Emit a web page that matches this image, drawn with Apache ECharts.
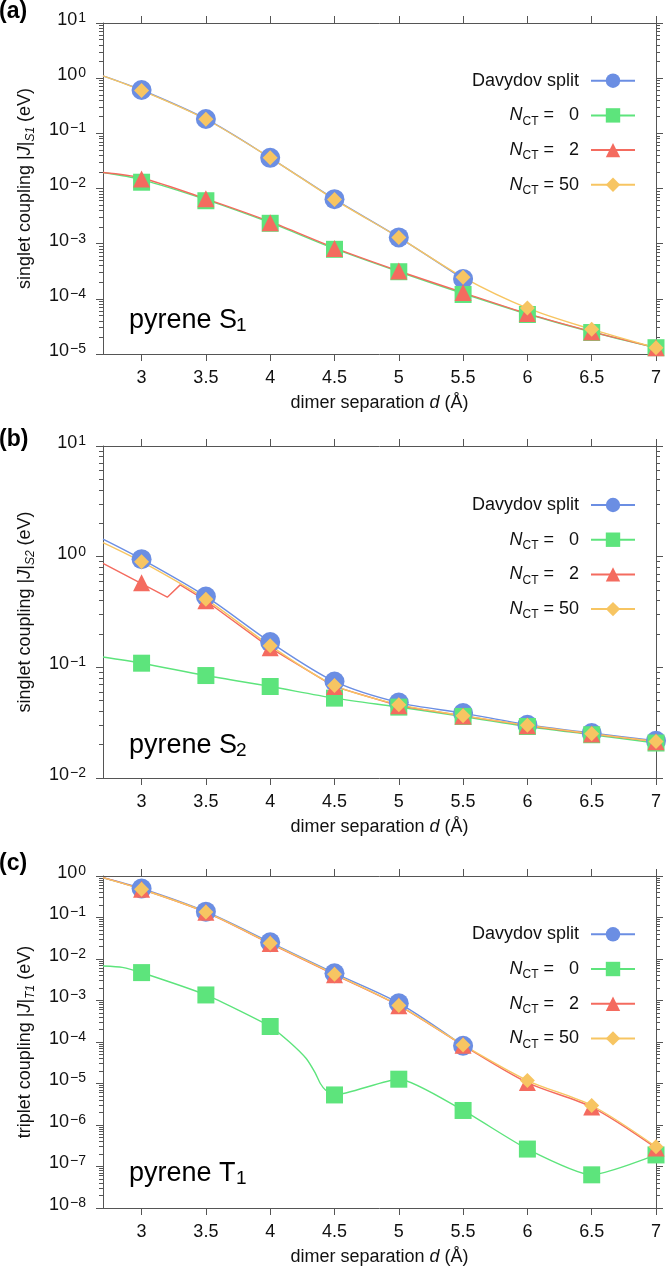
<!DOCTYPE html>
<html><head><meta charset="utf-8">
<script src="https://cdn.jsdelivr.net/npm/echarts@6/dist/echarts.min.js"></script>
<style>html,body{margin:0;padding:0;background:#fff}#c{width:666px;height:1267px}</style>
</head><body><div id="c"></div>
<script>
// ---------- data ----------
const xTicks = [3, 3.5, 4, 4.5, 5, 5.5, 6, 6.5, 7];
const xDav = [3, 3.5, 4, 4.5, 5, 5.5];
const legendNames = ['Davydov split', 'N_CT = 0', 'N_CT = 2', 'N_CT = 50'];

// panel (a) pyrene S1 — markers
const aDav = [0.61, 0.182, 0.036, 0.0064, 0.0013, 0.00023];
const aN0 = [0.013, 0.006, 0.00234, 0.00079, 0.00031, 0.00012, 5.2e-5, 2.45e-5, 1.3e-5];
const aN2 = [0.0148, 0.0065, 0.0024, 0.00082, 0.00032, 0.00013, 5.4e-5, 2.5e-5, 1.3e-5];
const aN50 = [0.6, 0.18, 0.036, 0.0063, 0.0013, 0.000245, 6.8e-5, 2.8e-5, 1.3e-5];
// panel (a) curves [d, J]
const aDavLine = [[2.7,1.1],[3,0.61],[3.5,0.182],[4,0.036],[4.5,0.0064],[5,0.0013],[5.5,0.00023]];
const aN0Line = [[2.7,0.0195],[3,0.0145],[3.5,0.0063],[4,0.0024],[4.5,0.00081],[5,0.00031],[5.5,0.000125],[6,5.3e-5],[6.5,2.5e-5],[7,1.3e-5]];
const aN2Line = [[2.7,0.0195],[3,0.0155],[3.5,0.0065],[4,0.0025],[4.5,0.00084],[5,0.00032],[5.5,0.00013],[6,5.4e-5],[6.5,2.55e-5],[7,1.3e-5]];
const aN50Line = [[2.7,1.1],[3,0.6],[3.5,0.18],[4,0.036],[4.5,0.0063],[5,0.0013],[5.5,0.000245],[6,6.8e-5],[6.5,2.8e-5],[7,1.3e-5]];

// panel (b) pyrene S2 — markers
const bDav = [0.95, 0.437, 0.169, 0.0745, 0.048, 0.0386, 0.0303, 0.0255, 0.0217];
const bN0 = [0.109, 0.0843, 0.0671, 0.0527, 0.0437, 0.036, 0.0292, 0.0246, 0.0207];
const bN2 = [0.58, 0.40, 0.15, 0.067, 0.045, 0.0364, 0.0297, 0.025, 0.0213];
const bN50 = [0.90, 0.413, 0.157, 0.0686, 0.046, 0.0366, 0.0299, 0.0251, 0.0214];
// panel (b) curves
const bDavLine = [[2.7,1.44],[3,0.95],[3.5,0.437],[4,0.169],[4.5,0.0745],[5,0.048],[5.5,0.0386],[6,0.0303],[6.5,0.0255],[7,0.0217]];
const bN0Line = [[2.7,0.124],[3,0.109],[3.5,0.0843],[4,0.0671],[4.5,0.0527],[5,0.0437],[5.5,0.036],[6,0.0292],[6.5,0.0246],[7,0.0207]];
const bN2Line = [[2.7,0.87],[3.2,0.43],[3.3,0.556],[3.5,0.40],[4,0.15],[4.5,0.067],[5,0.045],[5.5,0.0364],[6,0.0297],[6.5,0.025],[7,0.0213]];
const bN50Line = [[2.7,1.34],[3,0.90],[3.5,0.413],[4,0.157],[4.5,0.0686],[5,0.046],[5.5,0.0366],[6,0.0299],[6.5,0.0251],[7,0.0214]];

// panel (c) pyrene T1 — markers
const cDav = [0.50, 0.138, 0.0253, 0.00454, 0.00086, 8.1e-5];
const cN0 = [0.0047, 0.00136, 0.000236, 5.3e-6, 1.27e-5, 2.24e-6, 2.63e-7, 6.3e-8, 1.9e-7];
const cN2 = [0.48, 0.133, 0.0235, 0.0042, 0.00075, 8.3e-5, 1.05e-5, 2.7e-6, 2.8e-7];
const cN50 = [0.478, 0.135, 0.024, 0.0043, 0.00076, 8.5e-5, 1.18e-5, 2.95e-6, 3.0e-7];
// panel (c) curves
const cDavLine = [[2.7,0.91],[3,0.50],[3.5,0.138],[4,0.0253],[4.5,0.00454],[5,0.00086],[5.5,8.1e-5]];
const cN0Line = [[2.7,0.0068],[2.85,0.0063],[3,0.0047],[3.5,0.00136],[4,0.000236],[4.15,1.0e-4],[4.28,4.0e-5],[4.35,1.8e-5],[4.39,1.0e-5],[4.43,7.0e-6],[4.5,5.3e-6],[5,1.27e-5],[5.5,2.24e-6],[6,2.63e-7],[6.5,6.3e-8],[7,1.9e-7]];
const cN2Line = [[2.7,0.91],[3,0.48],[3.5,0.133],[4,0.0235],[4.5,0.0042],[5,0.00075],[5.5,8.3e-5],[6,1.05e-5],[6.5,2.7e-6],[7,2.8e-7]];
const cN50Line = [[2.7,0.91],[3,0.478],[3.5,0.135],[4,0.024],[4.5,0.0043],[5,0.00076],[5.5,8.5e-5],[6,1.18e-5],[6.5,2.95e-6],[7,3.0e-7]];

// ---------- style ----------
const FONT = '"Liberation Sans", Arial, Helvetica, sans-serif';
const TXT = '#111';
const AXIS = '#555';
const COLORS = ['#6b8ee3', '#5de47c', '#f46b5f', '#f7c562'];
const SYMBOLS = ['circle', 'rect', 'triangle', 'diamond'];
const SIZES = [20, 17, 17, 15];

const panels = [
  { top: 23, h: 331, ymin: 1e-5, ymax: 10, yname: 'singlet coupling |{i|J}|{s|S1} (eV)',
    tag: '(a)', tagY: 11.7, main: 'pyrene S', sub: '1', baseY: 330,
    legendTop: 68.7,
    markers: [[xDav, aDav], [xTicks, aN0], [xTicks, aN2], [xTicks, aN50]],
    lines: [aDavLine, aN0Line, aN2Line, aN50Line], smooth: [0.3, 0.3, 0.3, 0.3] },
  { top: 446, h: 332, ymin: 1e-2, ymax: 10, yname: 'singlet coupling |{i|J}|{s|S2} (eV)',
    tag: '(b)', tagY: 440, main: 'pyrene S', sub: '2', baseY: 755,
    legendTop: 493,
    markers: [[xTicks, bDav], [xTicks, bN0], [xTicks, bN2], [xTicks, bN50]],
    lines: [bDavLine, bN0Line, bN2Line, bN50Line], smooth: [0.3, 0.3, false, 0.3] },
  { top: 876, h: 332, ymin: 1e-8, ymax: 1, yname: 'triplet coupling |{i|J}|{s|T1} (eV)',
    tag: '(c)', tagY: 863.3, main: 'pyrene T', sub: '1', baseY: 1183,
    legendTop: 922.3,
    markers: [[xDav, cDav], [xTicks, cN0], [xTicks, cN2], [xTicks, cN50]],
    lines: [cDavLine, cN0Line, cN2Line, cN50Line], smooth: [0.3, 0.2, 0.3, 0.3] }
];

function supLabel(v) {
  const e = Math.round(Math.log10(v));
  return '{b|10}{s|' + (e < 0 ? '\u2212' + (-e) : String(e)) + '}';
}
function legendFmt(name) {
  if (name === 'Davydov split') return 'Davydov split';
  const n = name.split('= ')[1];
  return '{i|N}{c|CT} = {n|' + n + '}';
}

const option = {
  animation: false,
  backgroundColor: '#fff',
  textStyle: { fontFamily: FONT },
  grid: [], xAxis: [], yAxis: [], series: [], legend: [], graphic: []
};

panels.forEach((P, i) => {
  option.grid.push({ left: 103, right: 10, top: P.top, height: P.h, containLabel: false, outerBoundsMode: 'none' });

  const axisLine = { show: true, onZero: false, lineStyle: { color: AXIS, width: 1 } };
  // bottom x
  option.xAxis.push({
    type: 'value', gridIndex: i, position: 'bottom', min: 2.7, max: 7,
    axisLine: axisLine, splitLine: { show: false },
    axisTick: { show: true, inside: false, length: 7, customValues: xTicks, lineStyle: { color: AXIS } },
    axisLabel: { customValues: xTicks, fontSize: 18, color: TXT, margin: 15, fontFamily: FONT, formatter: v => String(v) },
    name: 'dimer separation {i|d} (Å)', nameLocation: 'middle', nameGap: 40,
    nameTextStyle: { fontSize: 18, color: TXT, fontFamily: FONT,
      rich: { i: { fontStyle: 'italic', fontSize: 18, color: TXT, fontFamily: FONT } } }
  });
  // top x
  option.xAxis.push({
    type: 'value', gridIndex: i, position: 'top', min: 2.7, max: 7,
    axisLine: axisLine, splitLine: { show: false },
    axisTick: { show: true, inside: false, length: 7, customValues: xTicks, lineStyle: { color: AXIS } },
    axisLabel: { show: false }
  });
  // left log
  option.yAxis.push({
    type: 'log', gridIndex: i, position: 'left', min: P.ymin, max: P.ymax, splitNumber: 10,
    axisLine: axisLine, splitLine: { show: false },
    axisTick: { show: true, inside: false, length: 7, lineStyle: { color: AXIS } },
    axisLabel: { formatter: supLabel, margin: 17, color: TXT, padding: [0, 0, 6, 0],
      rich: {
        b: { fontSize: 18, lineHeight: 18, padding: [6, 1, 0, 0], verticalAlign: 'bottom', color: TXT, fontFamily: FONT },
        s: { fontSize: 14, lineHeight: 14, verticalAlign: 'top', color: TXT, fontFamily: FONT }
      } },
    name: P.yname, nameLocation: 'middle', nameGap: 66,
    nameTextStyle: { fontSize: 18, color: TXT, fontFamily: FONT, lineHeight: 24,
      rich: {
        i: { fontStyle: 'italic', fontSize: 18, lineHeight: 24, color: TXT, fontFamily: FONT },
        s: { fontStyle: 'italic', fontSize: 12, lineHeight: 12, verticalAlign: 'bottom', color: TXT, fontFamily: FONT }
      } }
  });
  // right log
  option.yAxis.push({
    type: 'log', gridIndex: i, position: 'right', min: P.ymin, max: P.ymax, splitNumber: 10,
    axisLine: axisLine, splitLine: { show: false },
    axisTick: { show: true, inside: false, length: 7, lineStyle: { color: AXIS } },
    axisLabel: { show: false }
  });
  // minor ticks (both sides), in log10 space
  const lo = Math.round(Math.log10(P.ymin)), hi = Math.round(Math.log10(P.ymax));
  const minor = [];
  for (let n = lo; n < hi; n++) for (let k = 2; k <= 9; k++) minor.push(n + Math.log10(k));
  ['left', 'right'].forEach(pos => {
    option.yAxis.push({
      type: 'value', gridIndex: i, position: pos, min: lo, max: hi,
      axisLine: { show: false, onZero: false }, splitLine: { show: false },
      axisTick: { show: true, inside: false, length: 4, customValues: minor, lineStyle: { color: AXIS } },
      axisLabel: { show: false }
    });
  });

  // series: line then markers, in legend order
  for (let j = 0; j < 4; j++) {
    option.series.push({
      type: 'line', name: legendNames[j], xAxisIndex: 2 * i, yAxisIndex: 4 * i,
      data: P.lines[j], showSymbol: false, symbol: SYMBOLS[j], smooth: P.smooth[j],
      lineStyle: { color: COLORS[j], width: 1.4 }, itemStyle: { color: COLORS[j] },
      silent: true, z: 2
    });
    const [xs, ys] = P.markers[j];
    option.series.push({
      type: 'scatter', name: 'marker-' + i + '-' + j, xAxisIndex: 2 * i, yAxisIndex: 4 * i,
      data: xs.map((x, k) => [x, ys[k]]), symbol: SYMBOLS[j], symbolSize: SIZES[j],
      itemStyle: { color: COLORS[j], opacity: 1 }, clip: false, silent: true, z: 2
    });
  }

  option.legend.push({
    data: legendNames, orient: 'vertical', right: 30, top: P.legendTop, align: 'right',
    itemWidth: 44, itemHeight: 18, itemGap: 10.7, padding: 0, selectedMode: false,
    formatter: legendFmt,
    textStyle: { fontSize: 18, color: TXT, fontFamily: FONT, lineHeight: 24, padding: [0, 7, 0, 0],
      rich: {
        i: { fontStyle: 'italic', fontSize: 18, lineHeight: 24, color: TXT, fontFamily: FONT },
        c: { fontSize: 12, lineHeight: 12, verticalAlign: 'bottom', color: TXT, fontFamily: FONT },
        n: { fontSize: 18, lineHeight: 24, width: 20, align: 'right', color: TXT, fontFamily: FONT }
      } }
  });

  option.graphic.push(
    { type: 'text', x: -1, y: P.tagY, silent: true,
      style: { text: P.tag, fontSize: 23, fontWeight: 'bold', fontFamily: FONT, fill: '#000', align: 'left', verticalAlign: 'middle' } },
    { type: 'text', x: 129, y: P.baseY - 0.35 * 27, silent: true,
      style: { text: P.main, fontSize: 27, fontFamily: FONT, fill: '#000', align: 'left', verticalAlign: 'middle' } },
    { type: 'text', x: 236, y: P.baseY + 2 - 0.35 * 19, silent: true,
      style: { text: P.sub, fontSize: 19, fontFamily: FONT, fill: '#000', align: 'left', verticalAlign: 'middle' } }
  );
});

const chart = echarts.init(document.getElementById('c'), null, { renderer: 'canvas' });
chart.setOption(option);
</script>
</body></html>
